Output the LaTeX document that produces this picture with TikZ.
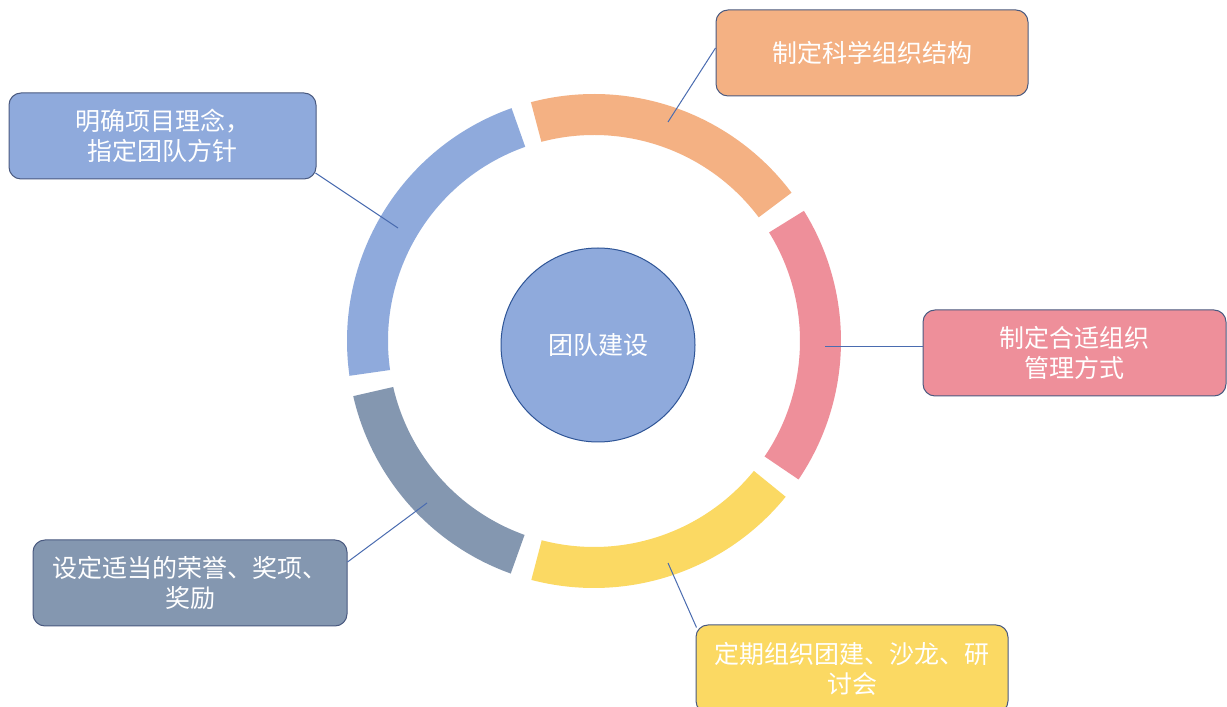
\documentclass[tikz,border=0pt]{standalone}
\usepackage{fontspec}
\newfontfamily\cjk{Noto Sans CJK SC}
\usetikzlibrary{calc}
\definecolor{cblue}{HTML}{8FAADC}
\definecolor{corange}{HTML}{F4B183}
\definecolor{cpink}{HTML}{EE8F9A}
\definecolor{cyellow}{HTML}{FBD963}
\definecolor{cgray}{HTML}{8497B0}
\definecolor{cdark}{HTML}{2F5597}
\definecolor{cborder}{HTML}{4A5A80}
\definecolor{clink}{HTML}{4A6CB0}
\begin{document}
\begin{tikzpicture}[x=1pt,y=1pt,
  box/.style={rounded corners=12pt, minimum height=86pt, text=white,
    font=\cjk\fontsize{25}{30}\selectfont, align=center,
    draw=cborder, line width=1pt, inner sep=0pt},
  link/.style={draw=clink, line width=1pt},
  seg/.style={line width=0pt}]
\useasboundingbox (0,0) rectangle (1227,707);
\fill[white] (0,0) rectangle (1227,707);
\coordinate (c) at (594,366);
% ring segments
\foreach \a/\b/\col in {-34.1/31.8/cpink, 36.9/104.8/corange, 109.5/188.1/cblue, 192.9/250.3/cgray, 255.3/320.9/cyellow}{
  \fill[\col] ($(c)+(\a:247)$) arc[start angle=\a, end angle=\b, radius=247]
     -- ($(c)+(\b:206)$) arc[start angle=\b, end angle=\a, radius=206] -- cycle;
}
% ring anchor points
\coordinate (r1) at (398,479);
\coordinate (r2) at (668,585);
\coordinate (r3) at (825,360);
\coordinate (r4) at (427,204);
\coordinate (r5) at (668,144);
% boxes
\node[box, fill=cblue, minimum width=307pt] (b1) at (162.5,571) {明确项目理念，\\指定团队方针};
\node[box, fill=corange, minimum width=312pt] (b2) at (872,654) {制定科学组织结构};
\node[box, fill=cpink, minimum width=303pt] (b3) at (1074.5,354) {制定合适组织\\管理方式};
\node[box, fill=cgray, minimum width=314pt] (b4) at (190,124) {设定适当的荣誉、奖项、\\奖励};
\node[box, fill=cyellow, minimum width=312pt, minimum height=88pt] (b5) at (852,38) {定期组织团建、沙龙、研\\讨会};
% connectors
\draw[link] ($(b1.east)+(-1,-37)$) -- (r1);
\draw[link] ($(b2.west)+(0,5)$) -- (r2);
\draw[link] ($(b3.west)+(0,6)$) -- (r3);
\draw[link] ($(b4.east)+(0,21)$) -- (r4);
\draw[link] ($(b5.north west)+(1,-3)$) -- (r5);
% hub
\node[circle, fill=cblue, draw=cdark, line width=1pt, minimum size=194pt, inner sep=0pt,
  text=white, font=\cjk\fontsize{25}{30}\selectfont] (hub) at (598,362) {团队建设};
\end{tikzpicture}
\end{document}
